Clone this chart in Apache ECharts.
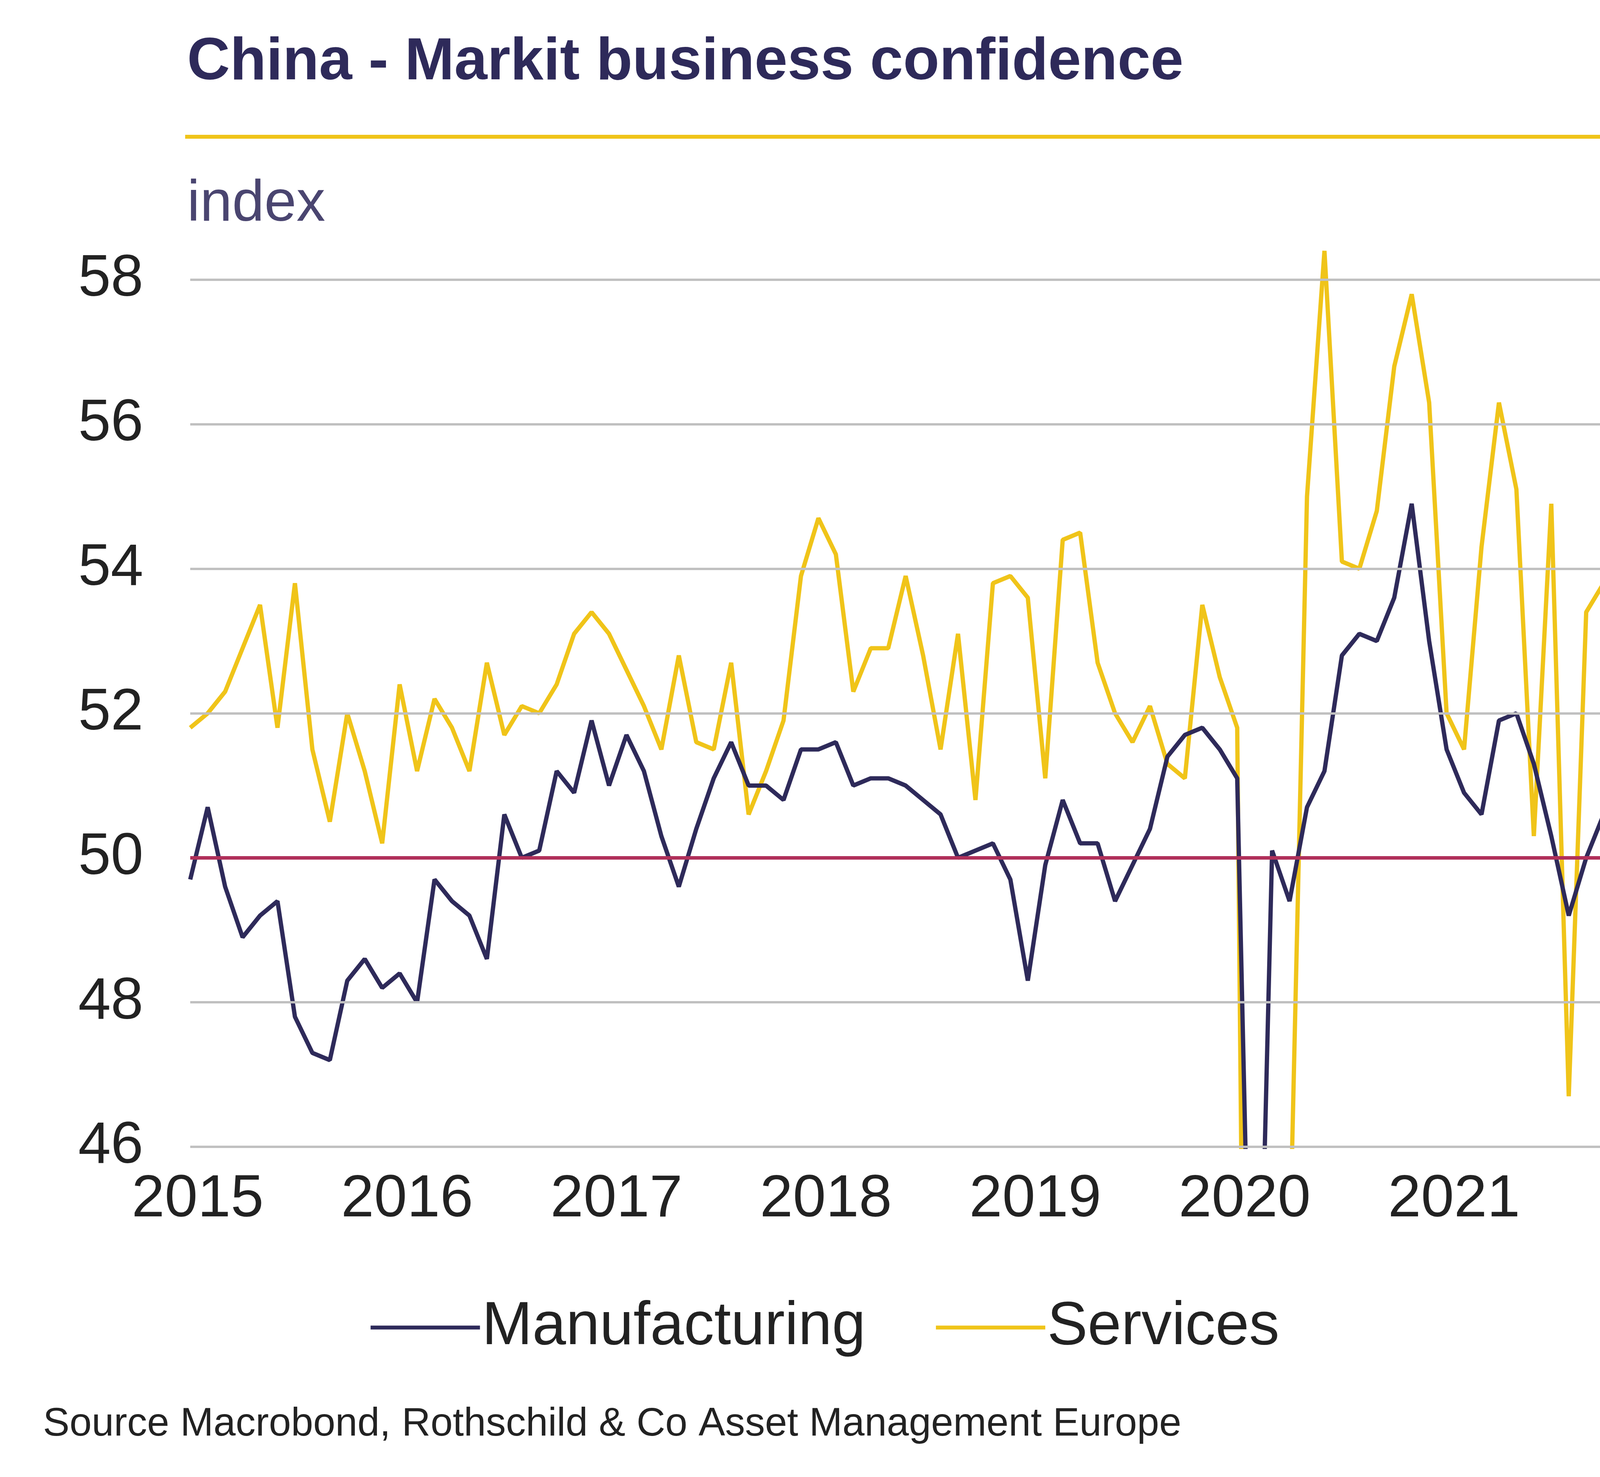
<!DOCTYPE html>
<html><head><meta charset="utf-8">
<script src="https://cdn.jsdelivr.net/npm/echarts@6/dist/echarts.min.js"></script>
<style>html,body{margin:0;padding:0;background:#fff;overflow:hidden}#c{width:4224px;height:3780px}</style>
</head><body><div id="c"></div>
<script>
const years = [2015,2016,2017,2018,2019,2020,2021];
const manufacturing = [
49.7,50.7,49.6,48.9,49.2,49.4,47.8,47.3,47.2,48.3,48.6,48.2,
48.4,48.0,49.7,49.4,49.2,48.6,50.6,50.0,50.1,51.2,50.9,51.9,
51.0,51.7,51.2,50.3,49.6,50.4,51.1,51.6,51.0,51.0,50.8,51.5,
51.5,51.6,51.0,51.1,51.1,51.0,50.8,50.6,50.0,50.1,50.2,49.7,
48.3,49.9,50.8,50.2,50.2,49.4,49.9,50.4,51.4,51.7,51.8,51.5,
51.1,40.3,50.1,49.4,50.7,51.2,52.8,53.1,53.0,53.6,54.9,53.0,
51.5,50.9,50.6,51.9,52.0,51.3,50.3,49.2,50.0,50.6,49.9];
const services = [
51.8,52.0,52.3,52.9,53.5,51.8,53.8,51.5,50.5,52.0,51.2,50.2,
52.4,51.2,52.2,51.8,51.2,52.7,51.7,52.1,52.0,52.4,53.1,53.4,
53.1,52.6,52.1,51.5,52.8,51.6,51.5,52.7,50.6,51.2,51.9,53.9,
54.7,54.2,52.3,52.9,52.9,53.9,52.8,51.5,53.1,50.8,53.8,53.9,
53.6,51.1,54.4,54.5,52.7,52.0,51.6,52.1,51.3,51.1,53.5,52.5,
51.8,26.5,43.0,44.4,55.0,58.4,54.1,54.0,54.8,56.8,57.8,56.3,
52.0,51.5,54.3,56.3,55.1,50.3,54.9,46.7,53.4,53.8,52.1];
const gridValues = [48,52,54,56,58];
const refValue = 50;
const months = [];
for (const y of years) for (let m=1;m<=12;m++) if (months.length<manufacturing.length) months.push(y+'-'+String(m).padStart(2,'0'));
const F = 'Liberation Sans, Arial, sans-serif';
const chart = echarts.init(document.getElementById('c'));
chart.setOption({
  animation:false,
  backgroundColor:'#fff',
  title:[
    {text:'China - Markit business confidence',left:474,top:80,textStyle:{fontFamily:F,fontSize:152,fontWeight:'bold',color:'#2e2a5a'}},
    {text:'index',left:474,top:445,textStyle:{fontFamily:F,fontSize:148,fontWeight:'normal',color:'#4a4570'}},
    {text:'Source Macrobond, Rothschild & Co Asset Management Europe',left:105,top:3590,textStyle:{fontFamily:F,fontSize:102,fontWeight:'normal',color:'#222'}}
  ],
  graphic:[{type:'rect',shape:{x:474,y:345,width:3664,height:10},style:{fill:'#f0c419'}}],
  legend:{bottom:300,left:'center',itemWidth:280,itemHeight:10,itemGap:180,
    textStyle:{fontFamily:F,fontSize:155,color:'#222'},
    data:[{name:'Manufacturing',icon:'rect'},{name:'Services',icon:'rect'}]},
  grid:{left:487,right:74,top:568,bottom:845,containLabel:false},
  xAxis:{type:'category',data:months,boundaryGap:false,
    axisLine:{show:false},axisTick:{show:false},splitLine:{show:false},
    axisLabel:{interval:(i,v)=>v.endsWith('-01'),formatter:v=>v.slice(0,4),fontFamily:F,fontSize:152,color:'#222',margin:60,align:'left',padding:[0,0,0,-150]}},
  yAxis:{type:'value',min:46,max:58.8,interval:2,splitLine:{show:false},
    axisLine:{show:false},axisTick:{show:false},
    axisLabel:{fontFamily:F,fontSize:150,color:'#222',margin:120,showMaxLabel:false}},
  series:[
    {name:'Manufacturing',type:'line',data:manufacturing,symbol:'none',z:3,
      lineStyle:{width:11,color:'#2e2a5a'},itemStyle:{color:'#2e2a5a'},
      markLine:{silent:true,symbol:'none',label:{show:false},animation:false,
        data:[
          ...gridValues.map(v=>({yAxis:v,lineStyle:{color:'#c0c0c0',width:6,type:'solid'}})),
          {yAxis:46,lineStyle:{color:'#c0c0c0',width:6,type:'solid'}},
          {yAxis:refValue,lineStyle:{color:'#b0305a',width:9,type:'solid'}},
          [{coord:[59,45.95],lineStyle:{color:'#4a4570',width:9,type:[30,20]}},{coord:[65,47.0]}]
        ]}},
    {name:'Services',type:'line',data:services,symbol:'none',z:2,
      lineStyle:{width:11,color:'#f0c419'},itemStyle:{color:'#f0c419'}}
  ]
});
</script></body></html>
